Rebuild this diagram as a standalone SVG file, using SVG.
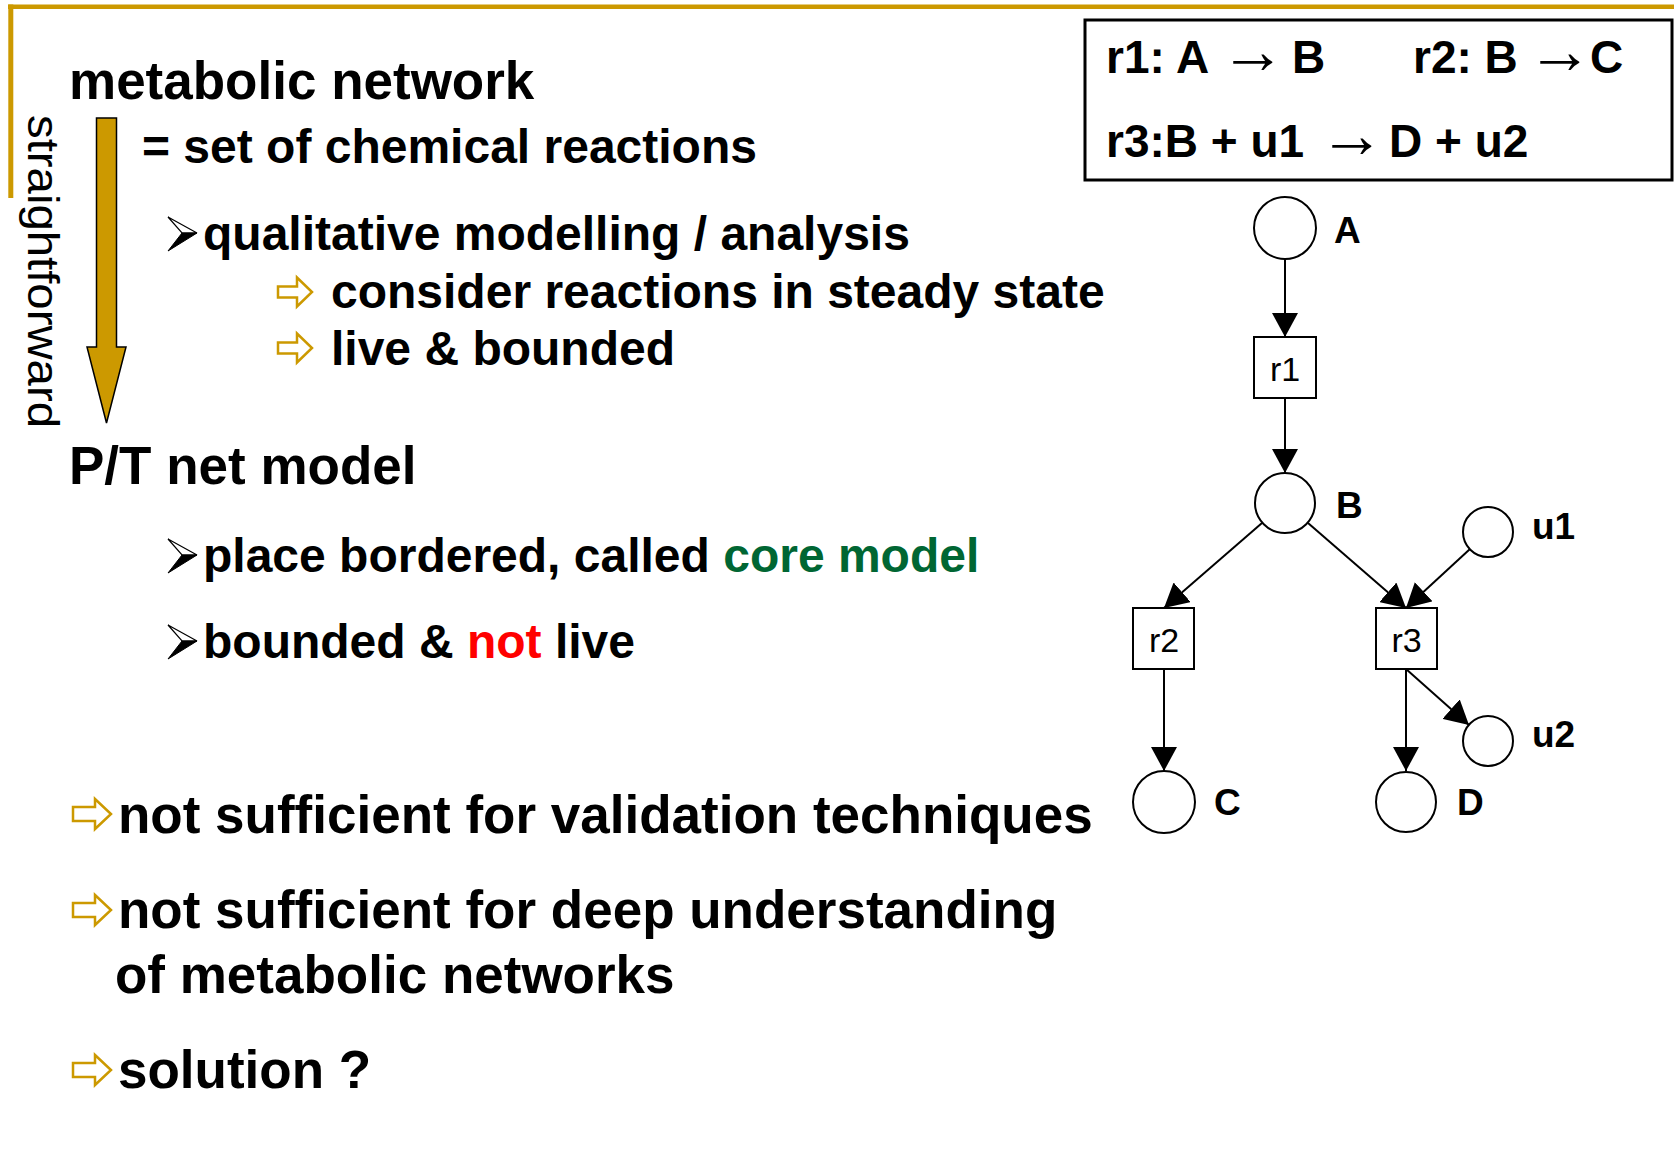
<svg xmlns="http://www.w3.org/2000/svg" width="1674" height="1168" viewBox="0 0 1674 1168">
  <style>
    text { font-family: "Liberation Sans", Arial, sans-serif; fill: #000; }
    .title { font-size: 53px; font-weight: bold; }
    .body { font-size: 48px; font-weight: bold; }
    .rx { font-size: 46px; font-weight: bold; }
    .arw { font-weight: normal; font-size: 66px; }
    .plabel { font-size: 37px; font-weight: bold; }
    .tlabel { font-size: 34px; text-anchor: middle; }
    .place { fill: #fff; stroke: #000; stroke-width: 2; }
    .trans { fill: #fff; stroke: #000; stroke-width: 2; }
    .arc { stroke: #000; stroke-width: 2; fill: none; marker-end: url(#head); }
    .gold { fill: #fff; stroke: #CC9900; stroke-width: 2.5; }
    .green { fill: #006633; }
    .red { fill: #FF0000; }
  </style>
  <defs>
    <marker id="head" markerUnits="userSpaceOnUse" markerWidth="24" markerHeight="26" refX="24" refY="13" orient="auto" viewBox="0 0 24 26">
      <path d="M0,0 L24,13 L0,26 Z" fill="#000"/>
    </marker>
    <!-- 3D arrowhead bullet, origin at left baseline -->
    <g id="bullet">
      <path d="M0,-33 L29,-17 L14,-17 Z" fill="#fff" stroke="#000" stroke-width="1.2" stroke-linejoin="miter"/>
      <path d="M14,-17 L29,-17 L0,1 Z" fill="#000" stroke="#000" stroke-width="1"/>
    </g>
    <!-- hollow gold block arrows, origin at left middle -->
    <path id="goldS" class="gold" d="M0,-5.5 H19 V-14.5 L34,0 L19,14.5 V5.5 H0 Z"/>
    <path id="goldL" class="gold" d="M0,-7 H22 V-15 L38,0 L22,15 V7 H0 Z"/>
  </defs>

  <rect width="1674" height="1168" fill="#fff"/>

  <!-- slide frame -->
  <g id="frame" fill="#CC9900">
    <rect x="8" y="4.5" width="1666" height="4.5"/>
    <rect x="8.3" y="4.5" width="5" height="193.5"/>
  </g>

  <!-- left column -->
  <g id="heading-network">
    <text class="title" x="69" y="99">metabolic network</text>
    <text class="body" x="142" y="163">= set of chemical reactions</text>
  </g>

  <g id="straightforward">
    <polygon points="96.5,118 116.5,118 116.5,347 126,347 106.5,423 87,347 96.5,347" fill="#CC9900" stroke="#000" stroke-width="1.5" stroke-linejoin="miter"/>
    <text transform="translate(28,115) rotate(90)" font-size="45" textLength="313" lengthAdjust="spacingAndGlyphs">straightforward</text>
  </g>

  <g id="qualitative">
    <use href="#bullet" x="168" y="250"/>
    <text class="body" x="203" y="250">qualitative modelling / analysis</text>
    <use href="#goldS" x="278" y="292"/>
    <text class="body" x="331" y="308">consider reactions in steady state</text>
    <use href="#goldS" x="278" y="348"/>
    <text class="body" x="331" y="365">live &amp; bounded</text>
  </g>

  <g id="heading-pt">
    <text class="title" x="69" y="484">P/T net model</text>
    <use href="#bullet" x="168" y="572"/>
    <text class="body" x="203" y="572">place bordered, called <tspan class="green">core model</tspan></text>
    <use href="#bullet" x="168" y="658"/>
    <text class="body" x="203" y="658">bounded &amp; <tspan class="red">not</tspan> live</text>
  </g>

  <g id="conclusions">
    <use href="#goldL" x="73" y="814"/>
    <text class="title" x="118" y="833">not sufficient for validation techniques</text>
    <use href="#goldL" x="73" y="910"/>
    <text class="title" x="118" y="928">not sufficient for deep understanding</text>
    <text class="title" x="115" y="993">of metabolic networks</text>
    <use href="#goldL" x="73" y="1070"/>
    <text class="title" x="118" y="1088">solution ?</text>
  </g>

  <!-- reaction list -->
  <g id="reactions">
    <rect x="1085" y="20" width="587" height="160" fill="#fff" stroke="#000" stroke-width="3"/>
    <text class="rx" x="1106" y="73">r1: A <tspan class="arw" x="1220">→</tspan> <tspan x="1292">B</tspan></text>
    <text class="rx" x="1413" y="73">r2: B <tspan class="arw" x="1527">→</tspan> <tspan x="1590">C</tspan></text>
    <text class="rx" x="1106" y="157">r3:B + u1 <tspan class="arw" x="1319">→</tspan> <tspan x="1389">D + u2</tspan></text>
  </g>

  <!-- Petri net arcs -->
  <g id="arcs">
    <line class="arc" x1="1285" y1="259" x2="1285" y2="337"/>
    <line class="arc" x1="1285" y1="398" x2="1285" y2="473"/>
    <line class="arc" x1="1262" y1="523" x2="1164" y2="608"/>
    <line class="arc" x1="1308" y1="523" x2="1406" y2="608"/>
    <line class="arc" x1="1470" y1="549" x2="1406" y2="608"/>
    <line class="arc" x1="1164" y1="669" x2="1164" y2="771"/>
    <line class="arc" x1="1406" y1="669" x2="1406" y2="771"/>
    <line class="arc" x1="1406" y1="669" x2="1469" y2="725"/>
  </g>

  <!-- places -->
  <g id="place-A">
    <circle class="place" cx="1285" cy="228" r="31"/>
    <text class="plabel" x="1334" y="243">A</text>
  </g>
  <g id="place-B">
    <circle class="place" cx="1285" cy="503" r="30"/>
    <text class="plabel" x="1336" y="518">B</text>
  </g>
  <g id="place-u1">
    <circle class="place" cx="1488" cy="532" r="25"/>
    <text class="plabel" x="1532" y="539">u1</text>
  </g>
  <g id="place-C">
    <circle class="place" cx="1164" cy="802" r="31"/>
    <text class="plabel" x="1214" y="815">C</text>
  </g>
  <g id="place-D">
    <circle class="place" cx="1406" cy="802" r="30"/>
    <text class="plabel" x="1457" y="815">D</text>
  </g>
  <g id="place-u2">
    <circle class="place" cx="1488" cy="741" r="25"/>
    <text class="plabel" x="1532" y="747">u2</text>
  </g>

  <!-- transitions -->
  <g id="trans-r1">
    <rect class="trans" x="1254" y="337" width="62" height="61"/>
    <text class="tlabel" x="1285" y="381">r1</text>
  </g>
  <g id="trans-r2">
    <rect class="trans" x="1133" y="608" width="61" height="61"/>
    <text class="tlabel" x="1164" y="652">r2</text>
  </g>
  <g id="trans-r3">
    <rect class="trans" x="1376" y="608" width="61" height="61"/>
    <text class="tlabel" x="1406.5" y="652">r3</text>
  </g>
</svg>
